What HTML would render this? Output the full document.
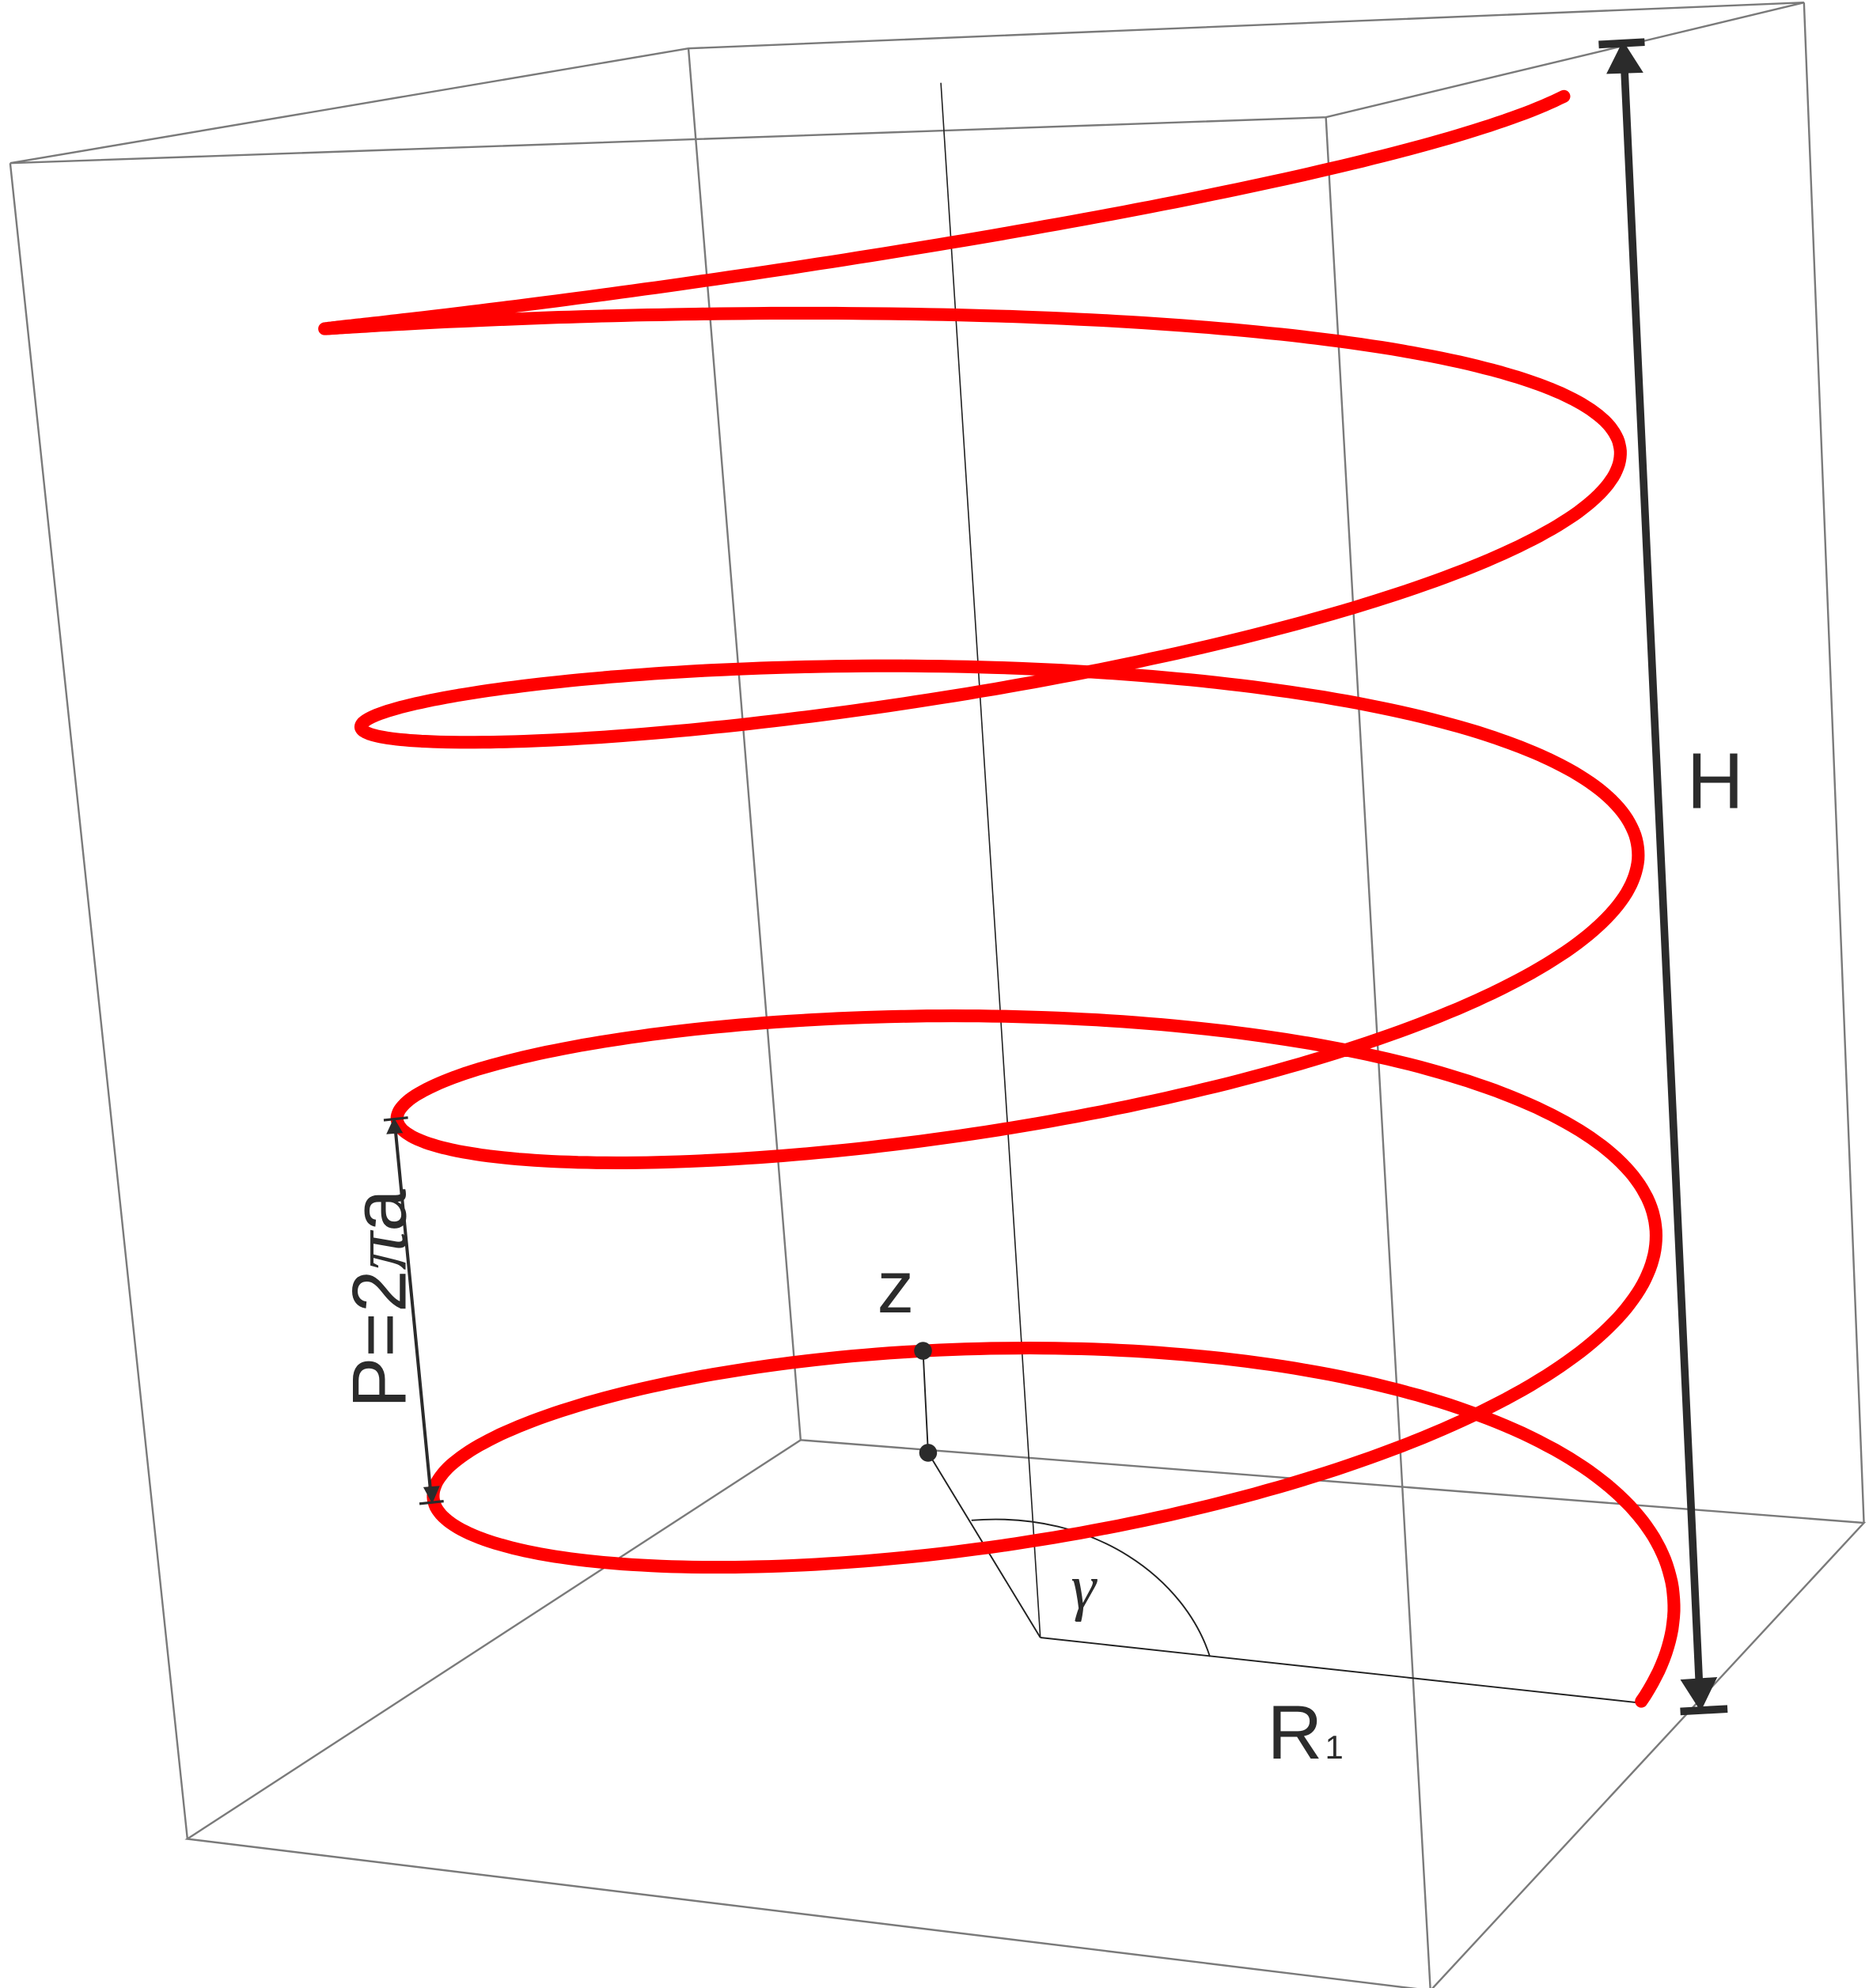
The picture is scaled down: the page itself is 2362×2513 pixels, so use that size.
<!DOCTYPE html>
<html><head><meta charset="utf-8"><style>
html,body{margin:0;padding:0;background:#fff;}
svg{display:block;}
</style></head><body>
<svg id="chart" width="2362" height="2513" viewBox="0 0 1466 1560" preserveAspectRatio="none" xmlns="http://www.w3.org/2000/svg">
<g stroke="#7a7a7a" stroke-width="1.5" fill="none">
<path d="M8,128 L540,38 L1415,2 L1040,92 Z"/>
<path d="M147,1443 L628,1130 L1462,1195 L1122,1562 Z"/>
<path d="M8,128 L147,1443 M540,38 L628,1130 M1415,2 L1462,1195 M1040,92 L1122,1562"/>
</g>
<line x1="738" y1="65" x2="816" y2="1285" stroke="#222" stroke-width="1"/>
<line x1="816" y1="1285" x2="1284" y2="1336" stroke="#222" stroke-width="1.2"/>
<line x1="816" y1="1285" x2="728" y2="1140" stroke="#222" stroke-width="1.2"/>
<line x1="728" y1="1140" x2="724" y2="1060" stroke="#222" stroke-width="1.2"/>
<path d="M949,1300 C930,1240 860,1185 762,1193" stroke="#222" stroke-width="1.2" fill="none"/>
<path id="helix" fill="none" stroke="#ff0000" stroke-width="10" stroke-linecap="round" stroke-linejoin="round"/>
<circle cx="724" cy="1060" r="7" fill="#2b2b2b"/>
<circle cx="728" cy="1140" r="7" fill="#2b2b2b"/>
<g fill="#2b2b2b" stroke="#2b2b2b">
<line x1="1274" y1="50" x2="1333" y2="1325" stroke-width="6"/>
<polygon points="1260,58 1273,32 1289,57" stroke="none"/>
<polygon points="1318,1318 1334,1343 1347,1316" stroke="none"/>
<line x1="1254" y1="35" x2="1290" y2="33" stroke-width="6"/>
<line x1="1318" y1="1343" x2="1355" y2="1341" stroke-width="6"/>
</g>
<g fill="#2b2b2b" stroke="#2b2b2b">
<line x1="310" y1="885" x2="338" y2="1173" stroke-width="2.5"/>
<polygon points="303,890 309,877 316,889" stroke="none"/>
<polygon points="332,1167 339,1180 345,1166" stroke="none"/>
<line x1="301" y1="879" x2="320" y2="877" stroke-width="2"/>
<line x1="329" y1="1180" x2="348" y2="1178" stroke-width="2"/>
</g>
<text x="1323" y="634" font-family="Liberation Sans, sans-serif" font-size="62" fill="#2b2b2b">H</text>
<text x="688" y="1030" font-family="Liberation Sans, sans-serif" font-size="58" fill="#2b2b2b">z</text>
<text x="840" y="1262" font-family="Liberation Serif, serif" font-style="italic" font-size="50" fill="#2b2b2b">γ</text>
<text x="994" y="1380" font-family="Liberation Sans, sans-serif" font-size="60" fill="#2b2b2b">R<tspan font-size="26" dx="2">1</tspan></text>
<text transform="translate(318,1105) rotate(-90)" font-family="Liberation Sans, sans-serif" font-size="60" fill="#2b2b2b">P=2<tspan font-family="Liberation Serif, serif" font-style="italic">π</tspan>a</text>
</svg>
<script>
// helix shape samples (turn index -> centre y, minor axis)
const sKnots = [0, 0.5, 1, 1.5, 2, 2.5, 3, 3.5, 4];
const cyKnots = [1288, 1145, 997, 849, 698, 542, 383, 230, 75];
const minorKnots = [175, 142, 132, 118, 104, 88, 70, 48, 25];
const turnRange = [-0.053, 3.944];
const centerX0 = 833.5, centerXSlope = -21.2;
const majorA0 = 479.5, majorSlope = 7.2;
const tilt = -28;

function interp(xs, ys, s){
  if (s <= xs[0]) return ys[0] + (ys[1]-ys[0])*(s-xs[0])/(xs[1]-xs[0]);
  for (let i=0;i<xs.length-1;i++){
    if (s<=xs[i+1]) return ys[i]+(ys[i+1]-ys[i])*(s-xs[i])/(xs[i+1]-xs[i]);
  }
  const n=xs.length-1;
  return ys[n]+(ys[n]-ys[n-1])*(s-xs[n])/(xs[n]-xs[n-1]);
}
let d='';
const N=1200;
for(let i=0;i<=N;i++){
  const s=turnRange[0]+(turnRange[1]-turnRange[0])*i/N;
  const psi=2*Math.PI*s;
  const cx=centerX0+centerXSlope*s;
  const A=majorA0+majorSlope*s;
  const cy=interp(sKnots,cyKnots,s);
  const B=interp(sKnots,minorKnots,s);
  const x=cx+A*Math.cos(psi);
  const y=cy+tilt*Math.cos(psi)-B*Math.sin(psi);
  d+=(i?'L':'M')+x.toFixed(1)+','+y.toFixed(1);
}
document.getElementById('helix').setAttribute('d',d);
</script>
</body></html>
